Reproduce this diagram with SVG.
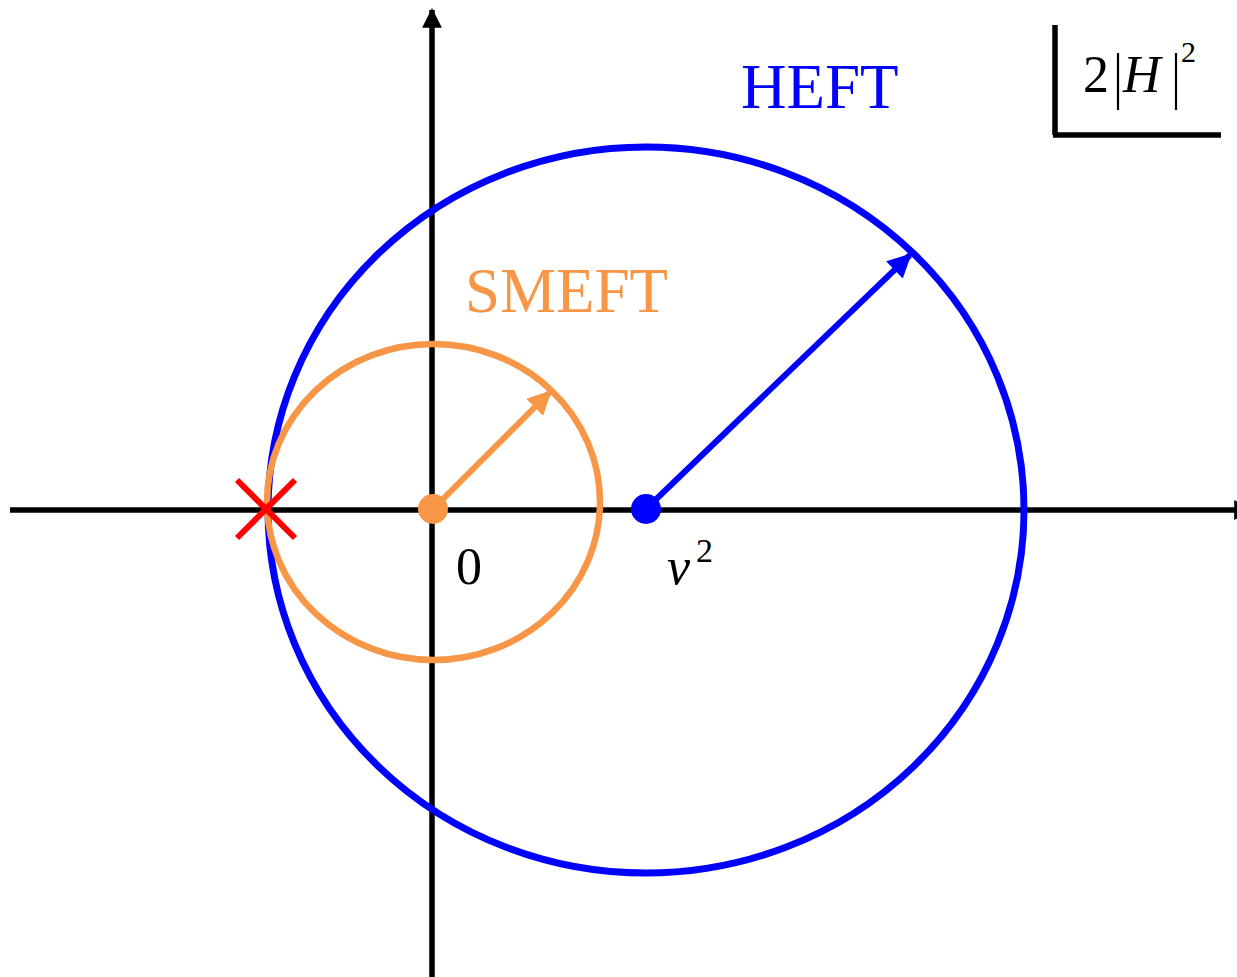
<svg xmlns="http://www.w3.org/2000/svg" width="1237" height="977" viewBox="0 0 1237 977">
<style>
.ax{stroke:#000;stroke-width:5.5;fill:none}
.t{font-family:"Liberation Serif","Times New Roman",serif}
</style>
<defs>
<marker id="ahk" viewBox="0 0 10 10" refX="9" refY="5" markerWidth="4" markerHeight="3.6" orient="auto" markerUnits="strokeWidth"><path d="M0,0 L10,5 L0,10 z" fill="#000"/></marker>
<marker id="ahb" viewBox="0 0 10 10" refX="9" refY="5" markerWidth="4.2" markerHeight="4" orient="auto" markerUnits="strokeWidth"><path d="M0,0 L10,5 L0,10 z" fill="#0000ff"/></marker>
<marker id="aho" viewBox="0 0 10 10" refX="9" refY="5" markerWidth="4.2" markerHeight="4" orient="auto" markerUnits="strokeWidth"><path d="M0,0 L10,5 L0,10 z" fill="#f79646"/></marker>
</defs>
<rect width="1237" height="977" fill="#fff"/>
<g id="axes">
<line class="ax" x1="10" y1="510" x2="1252" y2="510" marker-end="url(#ahk)"/>
<line class="ax" x1="432" y1="977" x2="432" y2="10" marker-end="url(#ahk)"/>
</g>
<g id="heft-circle">
<ellipse cx="646" cy="510" rx="378" ry="363" fill="none" stroke="#0000ff" stroke-width="7"/>
</g>
<g id="smeft-circle">
<ellipse cx="433.5" cy="502" rx="166.5" ry="158" fill="none" stroke="#f79646" stroke-width="6.5"/>
</g>
<g id="connectors">
<line x1="646" y1="509" x2="910" y2="255" stroke="#0000ff" stroke-width="6" marker-end="url(#ahb)"/>
<line x1="433" y1="509" x2="550" y2="392" stroke="#f79646" stroke-width="6" marker-end="url(#aho)"/>
</g>
<g id="cross">
<line x1="237" y1="480" x2="295" y2="538" stroke="#ff0000" stroke-width="6"/>
<line x1="295" y1="480" x2="237" y2="538" stroke="#ff0000" stroke-width="6"/>
</g>
<g id="dots">
<circle cx="433" cy="509" r="15" fill="#f79646"/>
<circle cx="646" cy="509" r="15" fill="#0000ff"/>
</g>
<g id="labels">
<text class="t" x="741" y="108" font-size="63" fill="#0000ff">HEFT</text>
<text class="t" x="465" y="312" font-size="63" fill="#f79646">SMEFT</text>
<text class="t" x="456" y="584" font-size="52">0</text>
<text class="t" x="667" y="584" font-size="52" font-style="italic">v</text>
<text class="t" x="696" y="562" font-size="34">2</text>
</g>
<g id="corner-label">
<line x1="1055" y1="25" x2="1055" y2="135" stroke="#000" stroke-width="5.5"/>
<line x1="1053" y1="135" x2="1221" y2="135" stroke="#000" stroke-width="5.5"/>
<text class="t" x="1083" y="92" font-size="52">2</text>
<line x1="1118" y1="53" x2="1118" y2="110" stroke="#000" stroke-width="2.2"/>
<text class="t" x="1123" y="92" font-size="52" font-style="italic">H</text>
<line x1="1176" y1="53" x2="1176" y2="110" stroke="#000" stroke-width="2.2"/>
<text class="t" x="1181" y="62" font-size="30">2</text>
</g>
</svg>
